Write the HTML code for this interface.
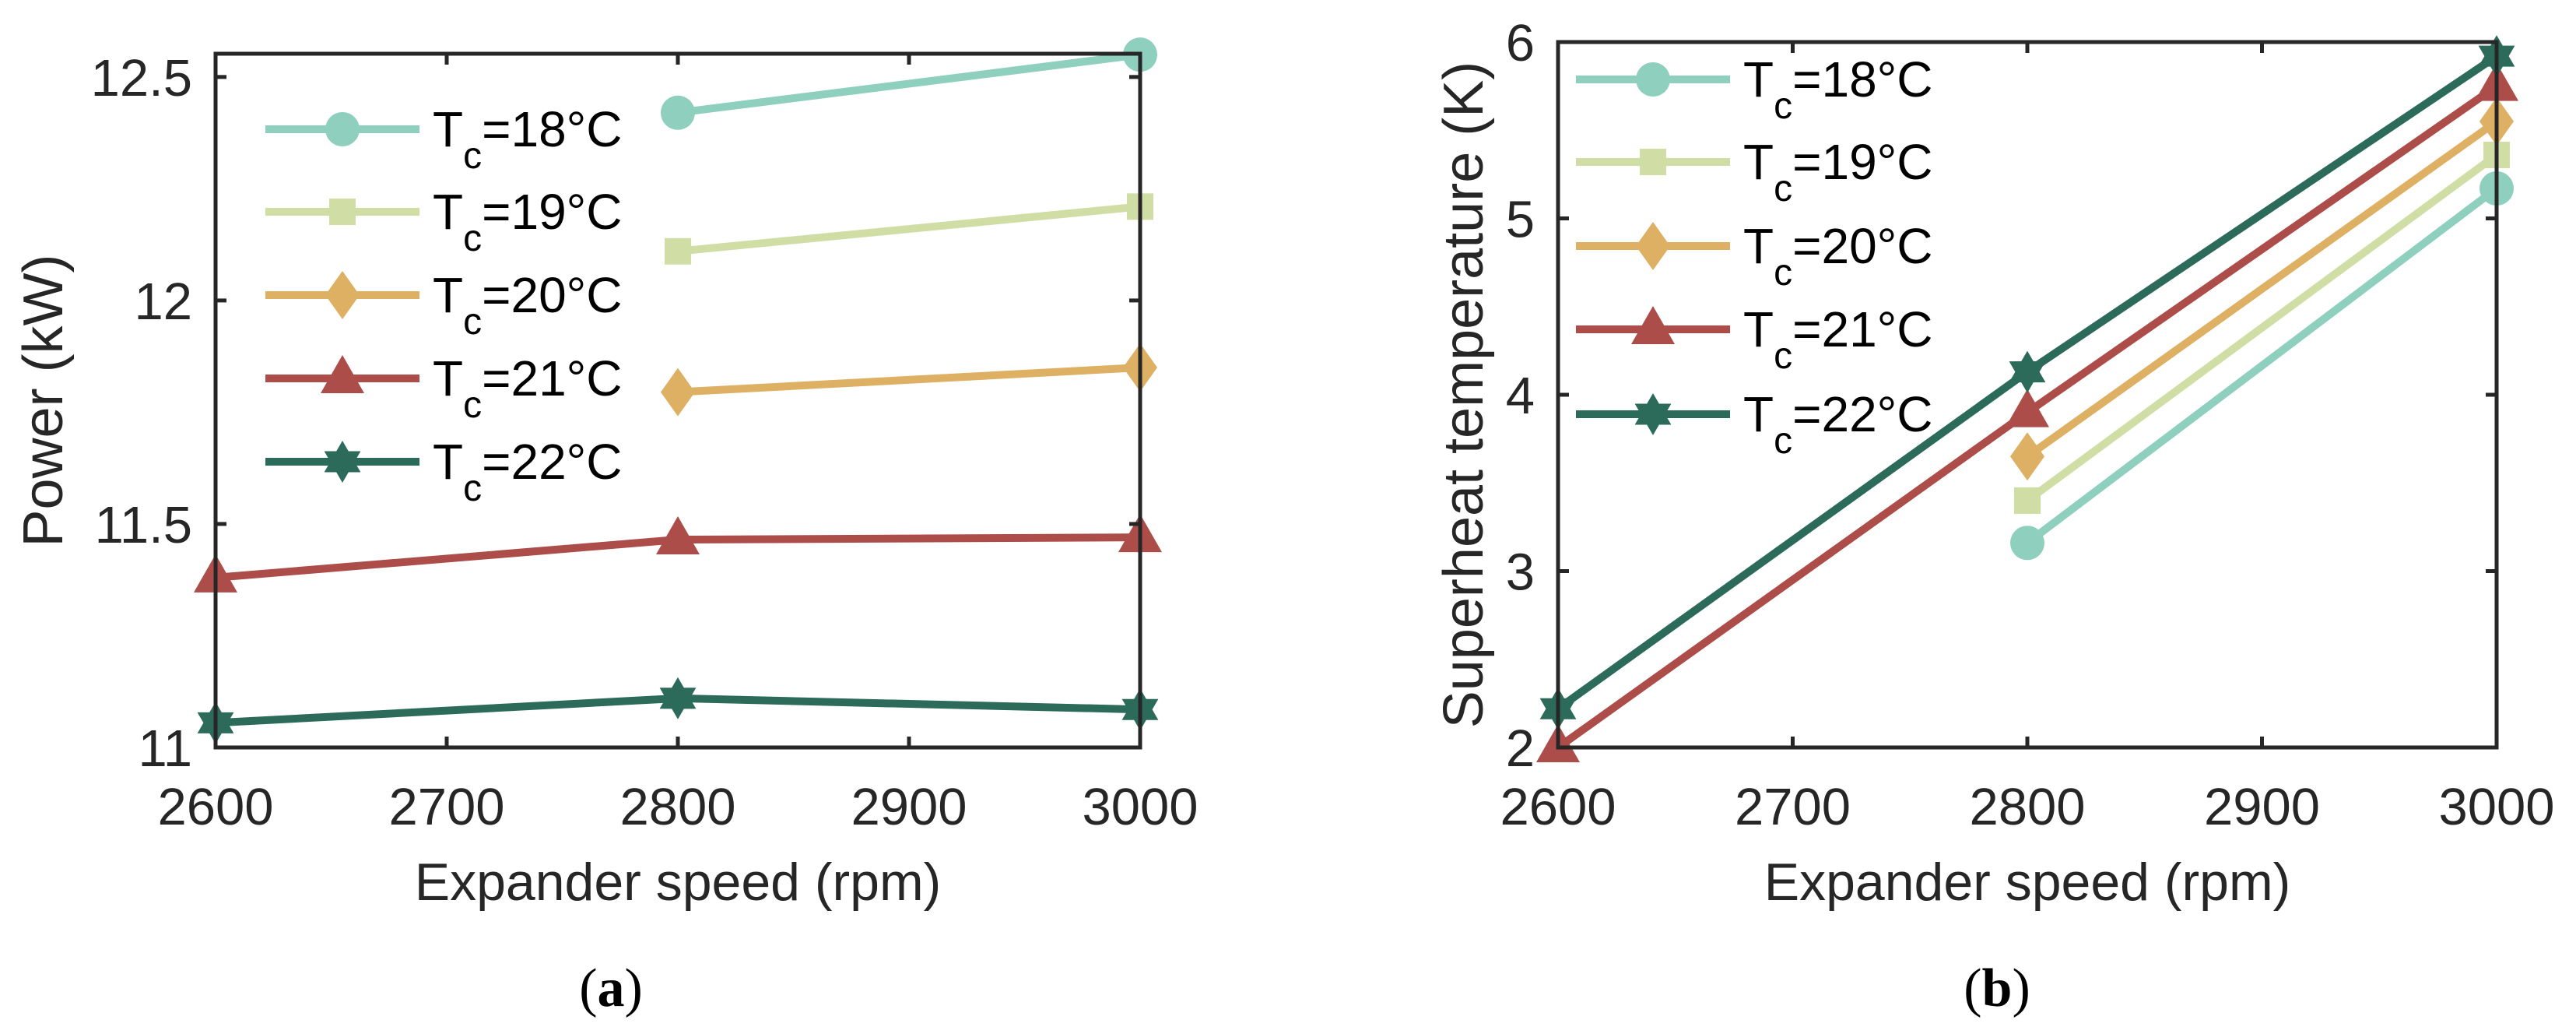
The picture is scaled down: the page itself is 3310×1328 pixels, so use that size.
<!DOCTYPE html>
<html><head><meta charset="utf-8"><style>
html,body{margin:0;padding:0;background:#fff;}
svg{display:block;font-family:"Liberation Sans",sans-serif;}
</style></head><body>
<svg id="fig" width="3310" height="1328" viewBox="0 0 3310 1328" xmlns="http://www.w3.org/2000/svg"></svg>
<script>
const categories = [2600, 2800, 3000];
const seriesNames = ["18", "19", "20", "21", "22"];
const powerT18 = [null, 12.42, 12.55];
const powerT19 = [null, 12.11, 12.21];
const powerT20 = [null, 11.795, 11.85];
const powerT21 = [11.38, 11.465, 11.47];
const powerT22 = [11.055, 11.11, 11.085];
const shT18 = [null, 3.16, 5.17];
const shT19 = [null, 3.40, 5.36];
const shT20 = [null, 3.65, 5.55];
const shT21 = [2.0, 3.90, 5.75];
const shT22 = [2.22, 4.13, 5.92];
const xTicks = [2600, 2700, 2800, 2900, 3000];
const powerTicks = [11, 11.5, 12, 12.5];
const powerTickLabels = ["11", "11.5", "12", "12.5"];
const shTicks = [2, 3, 4, 5, 6];
const shTickLabels = ["2", "3", "4", "5", "6"];

const colors = ["#8ECFBE", "#D0DEA6", "#DDB063", "#AD4D4A", "#2C6B5A"];
const markers = ["circle", "square", "diamond", "triangle", "star"];
const NS = "http://www.w3.org/2000/svg";
const svg = document.getElementById("fig");

function el(tag, attrs, parent) {
  const e = document.createElementNS(NS, tag);
  for (const k in attrs) e.setAttribute(k, attrs[k]);
  (parent || svg).appendChild(e);
  return e;
}

function drawMarker(g, type, cx, cy, color) {
  let m;
  if (type === "circle") m = el("circle", {cx: cx, cy: cy, r: 22, fill: color}, g);
  else if (type === "square") m = el("rect", {x: cx - 17, y: cy - 17, width: 34, height: 34, fill: color}, g);
  else if (type === "diamond") m = el("polygon", {points: `${cx},${cy-31} ${cx+22},${cy} ${cx},${cy+31} ${cx-22},${cy}`, fill: color}, g);
  else if (type === "triangle") m = el("polygon", {points: `${cx},${cy-30} ${cx+28},${cy+19} ${cx-28},${cy+19}`, fill: color}, g);
  else {
    const R = 27, r = 15.6; let pts = [];
    for (let i = 0; i < 12; i++) {
      const a = -Math.PI / 2 + i * Math.PI / 6;
      const rr = i % 2 === 0 ? R : r;
      pts.push((cx + rr * Math.cos(a)).toFixed(1) + "," + (cy + rr * Math.sin(a)).toFixed(1));
    }
    m = el("polygon", {points: pts.join(" "), fill: color}, g);
  }
  
  
  return m;
}

function makeChart(cfg) {
  const {L, R, T, B, ymin, ymax, yTicks, yLabels, data, ylabel, ylabelX, legendX, legendYs, caption, captionX, prefix} = cfg;
  const xs = v => L + (v - 2600) / 400 * (R - L);
  const ys = v => B - (v - ymin) / (ymax - ymin) * (B - T);
  const g = el("g", {});
  
  
  // series
  data.forEach((arr, si) => {
    const sg = el("g", {}, g);
    
    
    const pts = [];
    arr.forEach((v, i) => { if (v !== null) pts.push([xs(categories[i]), ys(v)]); });
    const pl = el("polyline", {points: pts.map(p => p.join(",")).join(" "), fill: "none", stroke: colors[si], "stroke-width": 10, "stroke-linejoin": "round"}, sg);
    
    
    pts.forEach(p => drawMarker(sg, markers[si], p[0], p[1], colors[si]));
  });
  // axes box
  const ax = el("g", {}, g);
  
  
  el("rect", {x: L, y: T, width: R - L, height: B - T, fill: "none", stroke: "#262626", "stroke-width": 5}, ax);
  xTicks.forEach(t => {
    const x = xs(t);
    el("line", {x1: x, y1: B, x2: x, y2: B - 14, stroke: "#262626", "stroke-width": 5}, ax);
    el("line", {x1: x, y1: T, x2: x, y2: T + 14, stroke: "#262626", "stroke-width": 5}, ax);
    const tl = el("text", {x: x, y: 1059, "font-size": 67, fill: "#262626", "text-anchor": "middle"}, ax);
    tl.textContent = t;
    
    
  });
  yTicks.forEach((t, i) => {
    const y = ys(t);
    el("line", {x1: L, y1: y, x2: L + 14, y2: y, stroke: "#262626", "stroke-width": 5}, ax);
    el("line", {x1: R, y1: y, x2: R - 14, y2: y, stroke: "#262626", "stroke-width": 5}, ax);
    const tl = el("text", {x: L - 30, y: y + 24, "font-size": 67, fill: "#262626", "text-anchor": "end"}, ax);
    tl.textContent = yLabels[i];
    
    
  });
  const xl = el("text", {x: (L + R) / 2, y: 1156, "font-size": 68, fill: "#262626", "text-anchor": "middle"}, g);
  xl.textContent = "Expander speed (rpm)";
  
  
  const yl = el("text", {x: 0, y: 0, "font-size": 72, fill: "#262626", "text-anchor": "middle", transform: `translate(${ylabelX},${(T + B) / 2}) rotate(-90)`}, g);
  yl.textContent = ylabel;
  
  
  // legend
  const lg = el("g", {}, g);
  
  
  seriesNames.forEach((n, si) => {
    const y = legendYs[si];
    const eg = el("g", {}, lg);
    
    
    el("line", {x1: legendX, y1: y, x2: legendX + 198, y2: y, stroke: colors[si], "stroke-width": 10}, eg);
    drawMarker(eg, markers[si], legendX + 99, y, colors[si]);
    const tx = el("text", {x: legendX + 215, y: y + 22, "font-size": 64, fill: "#000"}, eg);
    const a = el("tspan", {}, tx); a.textContent = "T";
    const b = el("tspan", {"font-size": 48, dy: 28}, tx); b.textContent = "c";
    const c = el("tspan", {dy: -28}, tx); c.textContent = "=" + n + "\u00B0C";
  });
  const cap = el("text", {x: captionX, y: 1292, "font-size": 70, "font-family": "Liberation Serif, serif", fill: "#000", "text-anchor": "middle"}, g);
  const c1 = el("tspan", {}, cap); c1.textContent = "(";
  const c2 = el("tspan", {"font-weight": "bold"}, cap); c2.textContent = caption;
  const c3 = el("tspan", {}, cap); c3.textContent = ")";
  
  
}

makeChart({L: 277, R: 1465, T: 69, B: 960, ymin: 11, ymax: 12.552,
  yTicks: powerTicks, yLabels: powerTickLabels,
  data: [powerT18, powerT19, powerT20, powerT21, powerT22],
  ylabel: "Power (kW)", ylabelX: 80, legendX: 341,
  legendYs: [166, 272, 379, 486, 593], caption: "a", captionX: 785, prefix: "power"});
makeChart({L: 2002, R: 3208, T: 54, B: 960, ymin: 2, ymax: 6,
  yTicks: shTicks, yLabels: shTickLabels,
  data: [shT18, shT19, shT20, shT21, shT22],
  ylabel: "Superheat temperature (K)", ylabelX: 1905, legendX: 2025,
  legendYs: [102, 208, 316, 423, 532], caption: "b", captionX: 2566, prefix: "superheat"});
</script>
</body></html>
